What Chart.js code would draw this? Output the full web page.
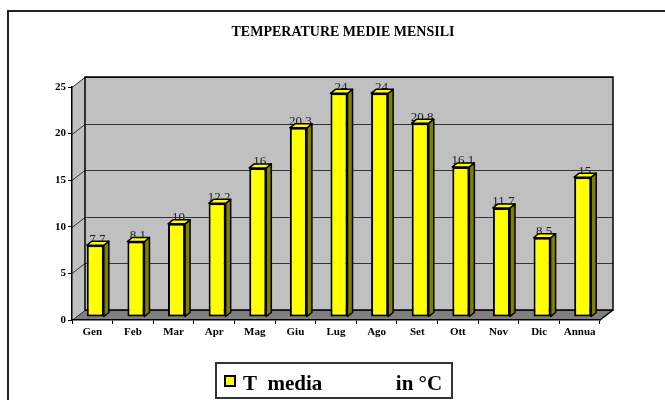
<!DOCTYPE html>
<html>
<head>
<meta charset="utf-8">
<script src="https://cdn.jsdelivr.net/npm/chart.js@4"></script>
<style>
  html, body { margin: 0; padding: 0; background: #fff; }
  #wrap { width: 665px; height: 400px; }
</style>
</head>
<body>
<div id="wrap"><canvas id="tempChart"></canvas></div>
<script>
/* ── Data ───────────────────────────────────────────────────── */
const months = ['Gen', 'Feb', 'Mar', 'Apr', 'Mag', 'Giu', 'Lug', 'Ago', 'Set', 'Ott', 'Nov', 'Dic', 'Annua'];
const tMedia = [7.7, 8.1, 10, 12.2, 16, 20.3, 24, 24, 20.8, 16.1, 11.7, 8.5, 15];
const yTicks = [0, 5, 10, 15, 20, 25];
const seriesLabel = 'T  media              in °C';
const chartTitle = 'TEMPERATURE MEDIE MENSILI';

/* ── Look ───────────────────────────────────────────────────── */
const serif = '"Liberation Serif", "Times New Roman", serif';
const palette = {
    wall:   '#c0c0c0',
    floor:  '#808080',
    bar:    '#ffff00',
    barSide:'#808000',
    line:   '#000000',
    grid:   '#333333',
};
const depth = { dx: 13, dy: -10 };     // wall depth
const barShift = { dx: 3, dy: -3 };    // bars sit a bit inside the box
const barDepth = { dx: 5, dy: -4 };

/* ── 3D box, title, legend ──────────────────────────────────── */
const boxPlugin = {
    id: 'box3d',
    beforeDraw(chart) {
        const { ctx, chartArea: a, scales: { y } } = chart;
        ctx.save();

        // outer frame
        ctx.strokeStyle = '#222';
        ctx.lineWidth = 2;
        ctx.beginPath();
        ctx.moveTo(8, 420);
        ctx.lineTo(8, 11);
        ctx.lineTo(670, 11);
        ctx.stroke();

        // back wall
        ctx.fillStyle = palette.wall;
        ctx.fillRect(a.left + depth.dx, a.top + depth.dy, a.width, a.height);
        // left wall
        ctx.beginPath();
        ctx.moveTo(a.left, a.top);
        ctx.lineTo(a.left + depth.dx, a.top + depth.dy);
        ctx.lineTo(a.left + depth.dx, a.bottom + depth.dy);
        ctx.lineTo(a.left, a.bottom);
        ctx.closePath();
        ctx.fill();
        // floor
        ctx.fillStyle = palette.floor;
        ctx.beginPath();
        ctx.moveTo(a.left, a.bottom);
        ctx.lineTo(a.left + depth.dx, a.bottom + depth.dy);
        ctx.lineTo(a.right + depth.dx, a.bottom + depth.dy);
        ctx.lineTo(a.right, a.bottom);
        ctx.closePath();
        ctx.fill();

        // gridlines along left + back wall
        ctx.strokeStyle = palette.grid;
        ctx.lineWidth = 1;
        yTicks.forEach(v => {
            const py = Math.round(y.getPixelForValue(v)) + 0.5;
            ctx.beginPath();
            ctx.moveTo(a.left, py);
            ctx.lineTo(a.left + depth.dx, py + depth.dy);
            ctx.lineTo(a.right + depth.dx, py + depth.dy);
            ctx.stroke();
        });

        // wall outline
        ctx.strokeStyle = palette.line;
        ctx.lineWidth = 1.5;
        ctx.strokeRect(a.left + depth.dx, a.top + depth.dy, a.width, a.height);
        ctx.beginPath();
        ctx.moveTo(a.right, a.bottom);
        ctx.lineTo(a.right + depth.dx, a.bottom + depth.dy);
        ctx.stroke();

        // title
        ctx.fillStyle = '#000';
        ctx.font = `bold 14px ${serif}`;
        ctx.textAlign = 'center';
        ctx.textBaseline = 'middle';
        ctx.fillText(chartTitle, 343, 32);

        // legend
        const lx = 216, ly = 363, lw = 236, lh = 35;
        ctx.strokeStyle = '#333';
        ctx.lineWidth = 2;
        ctx.strokeRect(lx, ly, lw, lh);
        ctx.fillStyle = palette.bar;
        ctx.fillRect(225, 376, 10, 10);
        ctx.strokeStyle = '#000';
        ctx.strokeRect(225, 376, 10, 10);
        ctx.fillStyle = '#000';
        ctx.font = `bold 21px ${serif}`;
        ctx.textAlign = 'left';
        ctx.textBaseline = 'alphabetic';
        ctx.fillText(chart.data.datasets[0].label, 243, 390);

        ctx.restore();
    },
    beforeDatasetsDraw(chart) {
        const { ctx } = chart;
        const meta = chart.getDatasetMeta(0);
        ctx.save();
        ctx.translate(barShift.dx, barShift.dy);
        // value labels go behind the bar tops
        ctx.fillStyle = '#222';
        ctx.font = `13px ${serif}`;
        ctx.textAlign = 'center';
        ctx.textBaseline = 'middle';
        meta.data.forEach((bar, i) => {
            ctx.fillText(String(chart.data.datasets[0].data[i]), bar.x + 2, bar.y - 6);
        });
    },
    afterDatasetsDraw(chart) {
        const { ctx } = chart;
        const meta = chart.getDatasetMeta(0);
        ctx.strokeStyle = palette.line;
        ctx.lineWidth = 1.5;
        ctx.lineJoin = 'round';
        meta.data.forEach(bar => {
            const l = bar.x - bar.width / 2, r = bar.x + bar.width / 2;
            const t = bar.y, b = bar.base;
            // side
            ctx.fillStyle = palette.barSide;
            ctx.beginPath();
            ctx.moveTo(r, t);
            ctx.lineTo(r + barDepth.dx, t + barDepth.dy);
            ctx.lineTo(r + barDepth.dx, b + barDepth.dy);
            ctx.lineTo(r, b);
            ctx.closePath();
            ctx.fill();
            ctx.stroke();
            // top
            ctx.fillStyle = palette.bar;
            ctx.beginPath();
            ctx.moveTo(l, t);
            ctx.lineTo(l + barDepth.dx, t + barDepth.dy);
            ctx.lineTo(r + barDepth.dx, t + barDepth.dy);
            ctx.lineTo(r, t);
            ctx.closePath();
            ctx.fill();
            ctx.stroke();
        });
        ctx.restore();
    },
};

/* ── Chart ──────────────────────────────────────────────────── */
new Chart(document.getElementById('tempChart'), {
    type: 'bar',
    data: {
        labels: months,
        datasets: [{
            label: seriesLabel,
            data: tMedia,
            backgroundColor: palette.bar,
            borderColor: palette.line,
            borderWidth: 2,
            borderSkipped: false,
            categoryPercentage: 1,
            barPercentage: 0.42,
            clip: false,
        }],
    },
    options: {
        responsive: true,
        maintainAspectRatio: false,
        animation: false,
        layout: { padding: { top: 87, left: 48, right: 65, bottom: 60 } },
        plugins: {
            legend: { display: false },
            title: { display: false },
            tooltip: { enabled: false },
        },
        scales: {
            x: {
                grid: { drawOnChartArea: false, tickLength: 4, color: '#000', offset: true },
                border: { color: '#000', width: 1.5 },
                ticks: { color: '#000', font: { family: serif, size: 11, weight: 'bold' }, padding: 2 },
                afterFit(scale) { scale.height = 20; },
            },
            y: {
                min: 0,
                max: 25,
                afterBuildTicks(scale) { scale.ticks = yTicks.map(v => ({ value: v })); },
                grid: { drawOnChartArea: false, tickLength: 4, color: '#000' },
                border: { color: '#000', width: 1.5 },
                ticks: { color: '#000', font: { family: serif, size: 11, weight: 'bold' }, padding: 2 },
                afterFit(scale) { scale.width = 24; },
            },
        },
    },
    plugins: [boxPlugin],
});
</script>
</body>
</html>
